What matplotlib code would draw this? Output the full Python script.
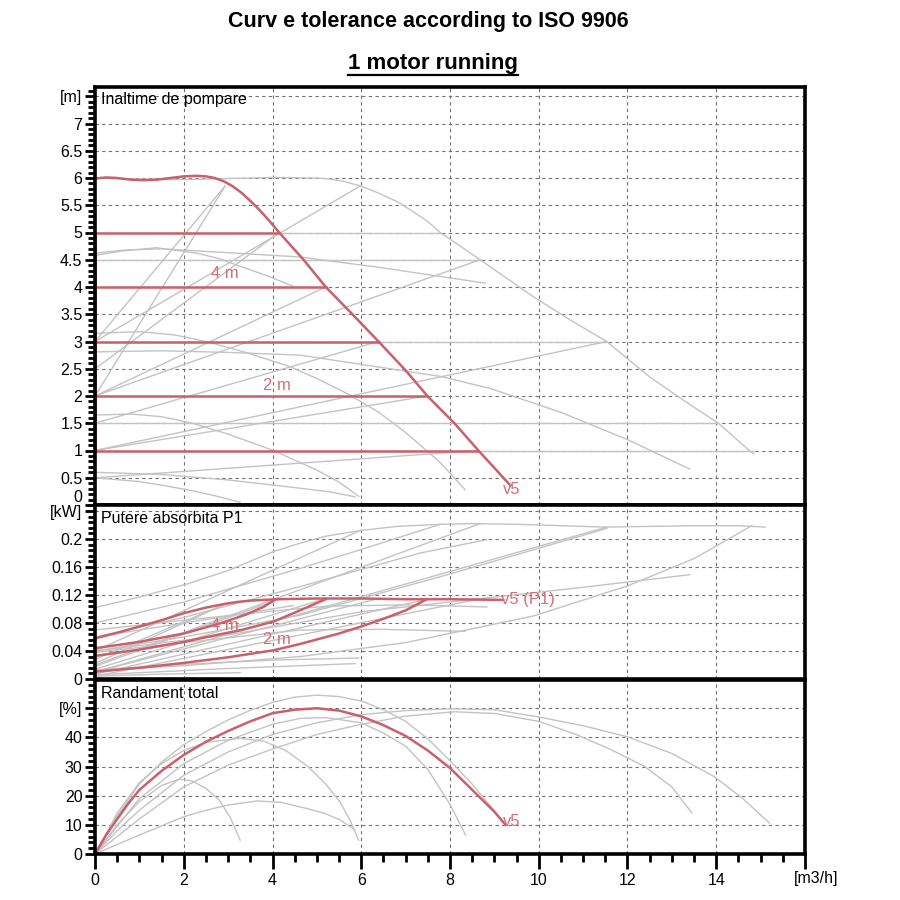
import matplotlib
matplotlib.use("Agg")
import matplotlib.pyplot as plt
from matplotlib.lines import Line2D
from matplotlib.ticker import MultipleLocator, FixedLocator, FixedFormatter

plt.rcParams['font.family'] = ['Liberation Sans', 'DejaVu Sans']

RED = '#c9606b'
RED_TXT = '#d0707a'
GREY = '#c3c3c3'
GRID = '#707070'

# ---------------- head [m] ----------------
v5_q = [0, 0.25, 0.5, 0.8, 1.1, 1.4, 1.7, 2.0, 2.3, 2.5, 2.7, 2.9, 3.1, 3.3, 3.5, 3.7, 3.9, 4.15,
        4.7, 5.2, 5.8, 6.39, 7.0, 7.49, 8.1, 8.64, 9.0, 9.36]
v5_h = [5.99, 6.01, 6.0, 5.97, 5.96, 5.97, 6.0, 6.03, 6.04, 6.03, 6.0, 5.94, 5.85, 5.73, 5.58, 5.42, 5.24, 5.0,
        4.5, 4.0, 3.5, 3.0, 2.47, 2.0, 1.5, 1.0, 0.68, 0.36]

gmax_q = [0, 1.0, 2.0, 3.0, 4.0, 5.0, 5.3, 5.6, 6.0, 6.4, 6.8, 7.1, 7.5, 7.78, 8.68, 9.88, 10.7, 11.53,
          12.5, 13.3, 14.05, 14.3, 14.55, 14.7, 14.84]
gmax_h = [6.0, 5.98, 5.97, 5.99, 6.01, 6.0, 5.98, 5.94, 5.85, 5.72, 5.57, 5.42, 5.2, 5.0, 4.5, 3.82, 3.4, 3.0,
          2.35, 1.9, 1.5, 1.32, 1.14, 1.03, 0.94]

c1_q = [0, 0.7, 1.5, 3.0, 4.62, 6.5, 8.79]
c1_h = [4.62, 4.68, 4.70, 4.63, 4.55, 4.35, 4.07]
c2_q = [0, 0.6, 1.39, 2.3, 2.8, 3.27, 3.9, 4.47]
c2_h = [4.58, 4.66, 4.72, 4.62, 4.52, 4.38, 4.2, 4.01]
c3_q = [0, 1.5, 3.0, 4.62, 6.0, 7.78, 8.9, 10.5, 12.0, 13.4]
c3_h = [2.81, 2.83, 2.8, 2.75, 2.58, 2.36, 2.14, 1.7, 1.2, 0.66]
c4_q = [0, 1.0, 1.8, 2.5, 3.4, 4.39, 5.0, 5.67, 6.4, 7.0, 7.78, 8.34]
c4_h = [3.15, 3.18, 3.12, 3.0, 2.8, 2.54, 2.32, 2.05, 1.7, 1.33, 0.78, 0.28]
c5_q = [0, 0.8, 1.5, 2.2, 3.0, 4.02, 5.0, 5.5, 5.94]
c5_h = [1.65, 1.67, 1.62, 1.5, 1.3, 1.0, 0.64, 0.42, 0.16]
c6_q = [0, 1.5, 3.0, 4.5, 5.3, 5.86]
c6_h = [0.6, 0.56, 0.46, 0.32, 0.24, 0.15]
c7_q = [0, 1.0, 1.6, 2.2, 2.7, 3.27]
c7_h = [0.5, 0.43, 0.35, 0.26, 0.17, 0.05]

# constant pressure settings (red pump / grey pump)
red_levels = [5, 4, 3, 2, 1]
red_level_end = [4.15, 5.2, 6.39, 7.49, 8.64]
grey_levels = [5, 4.5, 3, 1.5, 1]
grey_level_end = [7.78, 8.68, 11.53, 14.05, 14.84]

# proportional pressure lines: head at zero flow -> end point
prop_h0 = [3.0, 2.0, 2.5, 2.0, 1.5, 1.0, 0.5, 3.0, 2.0, 1.0]
prop_q1 = [2.93, 2.93, 4.15, 5.2, 6.39, 7.49, 8.64, 5.97, 8.68, 11.53]
prop_h1 = [5.85, 5.85, 5.0, 4.0, 3.0, 2.0, 1.0, 5.85, 4.5, 3.0]

# ---------------- power P1 [kW] ----------------
p_v5_q = [0, 0.5, 1.0, 1.5, 2.0, 2.5, 2.9, 3.2, 3.5, 3.8, 4.1, 5.0, 6.0, 7.0, 8.0, 9.2]
p_v5_p = [0.058, 0.066, 0.075, 0.084, 0.094, 0.102, 0.107, 0.110, 0.112, 0.113, 0.114, 0.115, 0.115, 0.114, 0.114, 0.113]
p_r5_q = [0, 1, 2, 2.8, 3.4, 3.8, 4.05]
p_r5_p = [0.044, 0.053, 0.065, 0.079, 0.092, 0.103, 0.113]
p_r4_q = [0, 1, 2, 2.52, 3.3, 4.02, 4.62, 5.2]
p_r4_p = [0.033, 0.042, 0.053, 0.060, 0.070, 0.082, 0.098, 0.114]
p_r2_q = [0, 1, 2, 3, 4.02, 4.62, 5.5, 6.0, 6.5, 7.0, 7.48]
p_r2_p = [0.0104, 0.016, 0.023, 0.031, 0.041, 0.050, 0.065, 0.075, 0.086, 0.098, 0.114]

p_gmax_q = [0, 1, 2.14, 3, 4.02, 4.62, 5.2, 5.97, 6.8, 7.78, 8.5, 9.5, 10.5, 11.5, 12.5, 13.5, 14.5, 15.1]
p_gmax_p = [0.102, 0.117, 0.137, 0.155, 0.182, 0.194, 0.204, 0.212, 0.218, 0.221, 0.222, 0.221, 0.219, 0.217, 0.218, 0.219, 0.219, 0.217]
p_g5_q = [0, 2, 4.62, 6, 7.78]
p_g5_p = [0.08, 0.11, 0.158, 0.185, 0.221]
p_g45_q = [0, 2, 4.62, 7.33, 8.83]
p_g45_p = [0.06, 0.088, 0.132, 0.18, 0.199]
p_g3_q = [0, 2, 4.62, 8, 11.53]
p_g3_p = [0.04, 0.06, 0.091, 0.15, 0.215]
p_g1_q = [0, 2, 4.62, 7, 9.88, 12, 13.5, 14.8]
p_g1_p = [0.012, 0.019, 0.032, 0.052, 0.09, 0.133, 0.172, 0.219]
p_c1_q = [0, 2, 4, 5.2, 7, 8.83]
p_c1_p = [0.07, 0.084, 0.097, 0.104, 0.106, 0.103]
p_c2_q = [0, 1.5, 3, 4.47]
p_c2_p = [0.06, 0.075, 0.09, 0.105]
p_c3_q = [0, 3, 6, 9.13, 11, 13.4]
p_c3_p = [0.04, 0.063, 0.096, 0.118, 0.131, 0.149]
p_c4_q = [0, 2, 4.62, 6.5, 8.34]
p_c4_p = [0.038, 0.052, 0.070, 0.071, 0.068]
p_c5_q = [0, 2, 4, 5.94]
p_c5_p = [0.013, 0.021, 0.027, 0.030]
p_c6_q = [0, 3, 5.86]
p_c6_p = [0.006, 0.015, 0.022]
p_c7_q = [0, 1.5, 3.27]
p_c7_p = [0.004, 0.007, 0.009]
pprop_p0 = [0.028, 0.022, 0.018, 0.014, 0.010, 0.007, 0.004, 0.04, 0.02, 0.01]
pprop_p1 = [0.107, 0.107, 0.114, 0.115, 0.115, 0.114, 0.114, 0.212, 0.222, 0.217]

# ---------------- efficiency [%] ----------------
e_v5_q = [0, 0.25, 0.5, 0.75, 1.0, 1.5, 2.0, 2.5, 3.0, 3.5, 4.0, 4.5, 5.0, 5.5, 6.0, 6.5, 7.0, 7.5, 8.0, 8.5, 9.0, 9.25]
e_v5_e = [0, 6.5, 12, 17.3, 22, 28.5, 34, 38.5, 42.2, 45.5, 48.3, 49.5, 50, 49.2, 47.2, 44.2, 40.5, 35.5, 29.5, 22, 14.5, 10]
e1_q = [0, 0.5, 1, 1.5, 2, 2.5, 3, 3.5, 4, 4.5, 5, 5.5, 6, 6.5, 7, 7.5, 8, 8.5, 9.13]
e1_e = [0, 13, 24, 31.5, 37.5, 42, 46, 49.3, 52, 53.8, 54.5, 54, 52.5, 49.5, 45.5, 39.5, 32, 24, 12.4]
e2_q = [0, 0.5, 1, 2, 3, 4, 5, 6, 7, 8, 9, 10, 11, 12, 13, 13.95, 14.6, 15.2]
e2_e = [0, 8, 15, 27, 35, 41, 45, 47.8, 49.2, 49.8, 49.5, 47, 44, 40.2, 34.5, 26.6, 19, 10.6]
e3_q = [0, 1, 2, 3, 4, 5, 6, 7, 8.1, 9, 10, 10.84, 11.6, 12.39, 13, 13.45]
e3_e = [0, 12, 23, 30.5, 36, 41, 44.5, 47.3, 48.8, 48.2, 45.5, 41, 36, 30, 23, 14.1]
e4_q = [0, 0.5, 1, 1.5, 2, 2.5, 3.27, 3.8, 4.3, 4.8, 5.2, 5.52, 5.75, 5.94]
e4_e = [0, 14, 24.5, 31, 35.5, 38.3, 39.7, 38.7, 35.5, 30, 24, 17.9, 11.5, 4.7]
e5_q = [0, 0.5, 1, 1.5, 1.9, 2.2, 2.5, 2.8, 3.05, 3.27]
e5_e = [0, 10, 18, 23.5, 25.7, 25, 22.5, 18.5, 12.5, 4.8]
e6_q = [0, 1, 2, 2.5, 3, 3.65, 4.2, 4.8, 5.2, 5.52, 5.86]
e6_e = [0, 6.5, 12.8, 15, 16.8, 18.2, 17.7, 15.5, 13.8, 11.7, 8.2]
e7_q = [0, 1, 2, 3, 4, 4.62, 5.2, 6, 6.5, 7, 7.5, 8, 8.35]
e7_e = [0, 19, 31, 39, 44.5, 46.5, 46.8, 45, 41.5, 37, 29, 17, 6.5]

x_ticks = [0, 2, 4, 6, 8, 10, 12, 14]
h_ticks = [0, 0.5, 1, 1.5, 2, 2.5, 3, 3.5, 4, 4.5, 5, 5.5, 6, 6.5, 7, 7.5]
h_labels = ['0', '0.5', '1', '1.5', '2', '2.5', '3', '3.5', '4', '4.5', '5', '5.5', '6', '6.5', '7', '[m]']
p_ticks = [0, 0.04, 0.08, 0.12, 0.16, 0.2, 0.24]
p_labels = ['0', '0.04', '0.08', '0.12', '0.16', '0.2', '[kW]']
e_ticks = [0, 10, 20, 30, 40, 50]
e_labels = ['0', '10', '20', '30', '40', '[%]']

TICK_FS = 11.5
LBL_FS = 11.5


def style_axis(ax, yticks, ylabels, yminor, ylim):
    ax.set_xlim(0, 16)
    ax.set_ylim(*ylim)
    ax.set_axisbelow(True)
    ax.xaxis.set_major_locator(FixedLocator([2, 4, 6, 8, 10, 12, 14]))
    ax.yaxis.set_major_locator(FixedLocator(yticks))
    ax.yaxis.set_major_formatter(FixedFormatter(ylabels))
    ax.yaxis.set_minor_locator(MultipleLocator(yminor))
    ax.grid(True, which='major', color=GRID, linestyle=(0, (3, 3)), linewidth=0.8)
    for s in ax.spines.values():
        s.set_linewidth(2.6)
        s.set_color('black')
    ax.tick_params(axis='y', which='major', direction='out', length=7, width=2, labelsize=TICK_FS, pad=2)
    ax.tick_params(axis='y', which='minor', direction='out', length=5, width=2)
    ax.tick_params(axis='x', which='both', length=0, labelbottom=False)


fig = plt.figure(figsize=(9, 9), dpi=100)
L, W = 95 / 900, 710 / 900
ax_h = fig.add_axes([L, 1 - 505 / 900, W, 418 / 900])
ax_p = fig.add_axes([L, 1 - 679 / 900, W, 174 / 900])
ax_e = fig.add_axes([L, 1 - 854 / 900, W, 174 / 900])

# ---- head panel ----
style_axis(ax_h, h_ticks, h_labels, 0.1, (0, 418 / 54.5))
grey_h = [(gmax_q, gmax_h), (c1_q, c1_h), (c2_q, c2_h), (c3_q, c3_h), (c4_q, c4_h),
          (c5_q, c5_h), (c6_q, c6_h), (c7_q, c7_h)]
for q, h in grey_h:
    ax_h.plot(q, h, color=GREY, lw=1)
for lev, qe in zip(grey_levels, grey_level_end):
    ax_h.plot([0, qe], [lev, lev], color=GREY, lw=1)
for h0, q1, h1 in zip(prop_h0, prop_q1, prop_h1):
    ax_h.plot([0, q1], [h0, h1], color=GREY, lw=1)
for lev, qe in zip(red_levels, red_level_end):
    ax_h.plot([0, qe], [lev, lev], color=RED, lw=1.8)
ax_h.plot([0, 0], [min(red_levels), max(red_levels)], color=RED, lw=2.2)
ax_h.plot(v5_q, v5_h, color=RED, lw=1.8)
ax_h.text(2.93, 4.24, '4 m', color=RED_TXT, fontsize=12, ha='center', va='center')
ax_h.text(4.1, 2.2, '2 m', color=RED_TXT, fontsize=12, ha='center', va='center')
ax_h.text(9.2, 0.28, 'v5', color=RED_TXT, fontsize=12, ha='left', va='center')
ax_h.text(0.008, 0.969, 'Inaltime de pompare', transform=ax_h.transAxes, fontsize=LBL_FS, va='center')

# ---- power panel ----
style_axis(ax_p, p_ticks, p_labels, 0.008, (0, 174 / 700))
grey_p = [(p_gmax_q, p_gmax_p), (p_g5_q, p_g5_p), (p_g45_q, p_g45_p), (p_g3_q, p_g3_p),
          (p_g1_q, p_g1_p), (p_c1_q, p_c1_p), (p_c2_q, p_c2_p), (p_c3_q, p_c3_p),
          (p_c4_q, p_c4_p), (p_c5_q, p_c5_p), (p_c6_q, p_c6_p), (p_c7_q, p_c7_p)]
for q, p in grey_p:
    ax_p.plot(q, p, color=GREY, lw=1)
for p0, q1, p1 in zip(pprop_p0, prop_q1, pprop_p1):
    ax_p.plot([0, q1], [p0, p1], color=GREY, lw=1)
for q, p in [(p_r5_q, p_r5_p), (p_r4_q, p_r4_p), (p_r2_q, p_r2_p), (p_v5_q, p_v5_p)]:
    ax_p.plot(q, p, color=RED, lw=1.8)
ax_p.text(2.93, 0.077, '4 m', color=RED_TXT, fontsize=12, ha='center', va='center')
ax_p.text(4.1, 0.056, '2 m', color=RED_TXT, fontsize=12, ha='center', va='center')
ax_p.text(9.15, 0.113, 'v5 (P1)', color=RED_TXT, fontsize=12, ha='left', va='center')
ax_p.text(0.008, 0.92, 'Putere absorbita P1', transform=ax_p.transAxes, fontsize=LBL_FS, va='center')

# ---- efficiency panel ----
style_axis(ax_e, e_ticks, e_labels, 2, (0, 174 / 2.915))
for q, e in [(e1_q, e1_e), (e2_q, e2_e), (e3_q, e3_e), (e4_q, e4_e), (e5_q, e5_e),
             (e6_q, e6_e), (e7_q, e7_e)]:
    ax_e.plot(q, e, color=GREY, lw=1)
ax_e.plot(e_v5_q, e_v5_e, color=RED, lw=1.8)
ax_e.text(9.2, 11, 'v5', color=RED_TXT, fontsize=12, ha='left', va='center')
ax_e.text(0.008, 0.925, 'Randament total', transform=ax_e.transAxes, fontsize=LBL_FS, va='center')
ax_e.xaxis.set_major_locator(FixedLocator(x_ticks + [16]))
ax_e.xaxis.set_major_formatter(FixedFormatter([str(t) for t in x_ticks] + ['']))
ax_e.xaxis.set_minor_locator(MultipleLocator(0.5))
ax_e.tick_params(axis='x', which='major', direction='out', length=11, width=2,
                 labelbottom=True, labelsize=TICK_FS, pad=3)
ax_e.tick_params(axis='x', which='minor', direction='out', length=6, width=2)
ax_e.text(16.25, -0.1, '[m3/h]', transform=ax_e.get_xaxis_transform(), fontsize=TICK_FS,
          ha='center', va='top')
ax_e.xaxis.get_gridlines()[-1].set_visible(False)

# ---- titles ----
fig.text(0.476, 1 - 22 / 900, 'Curv e tolerance according to ISO 9906', fontsize=15.5,
         fontweight='bold', ha='center', va='center')
sub = fig.text(0.481, 1 - 63 / 900, '1 motor running', fontsize=16, fontweight='bold',
               ha='center', va='center')
fig.canvas.draw()
# lift the head panel's zero label so it sits above the frame join
ax_h.get_yticklabels()[0].set_va('bottom')
bb = sub.get_window_extent().transformed(fig.transFigure.inverted())
fig.add_artist(Line2D([bb.x0, bb.x1], [bb.y0 - 0.002, bb.y0 - 0.002], color='black', lw=1.6,
                      transform=fig.transFigure))

fig.savefig('out.png', dpi=100)
